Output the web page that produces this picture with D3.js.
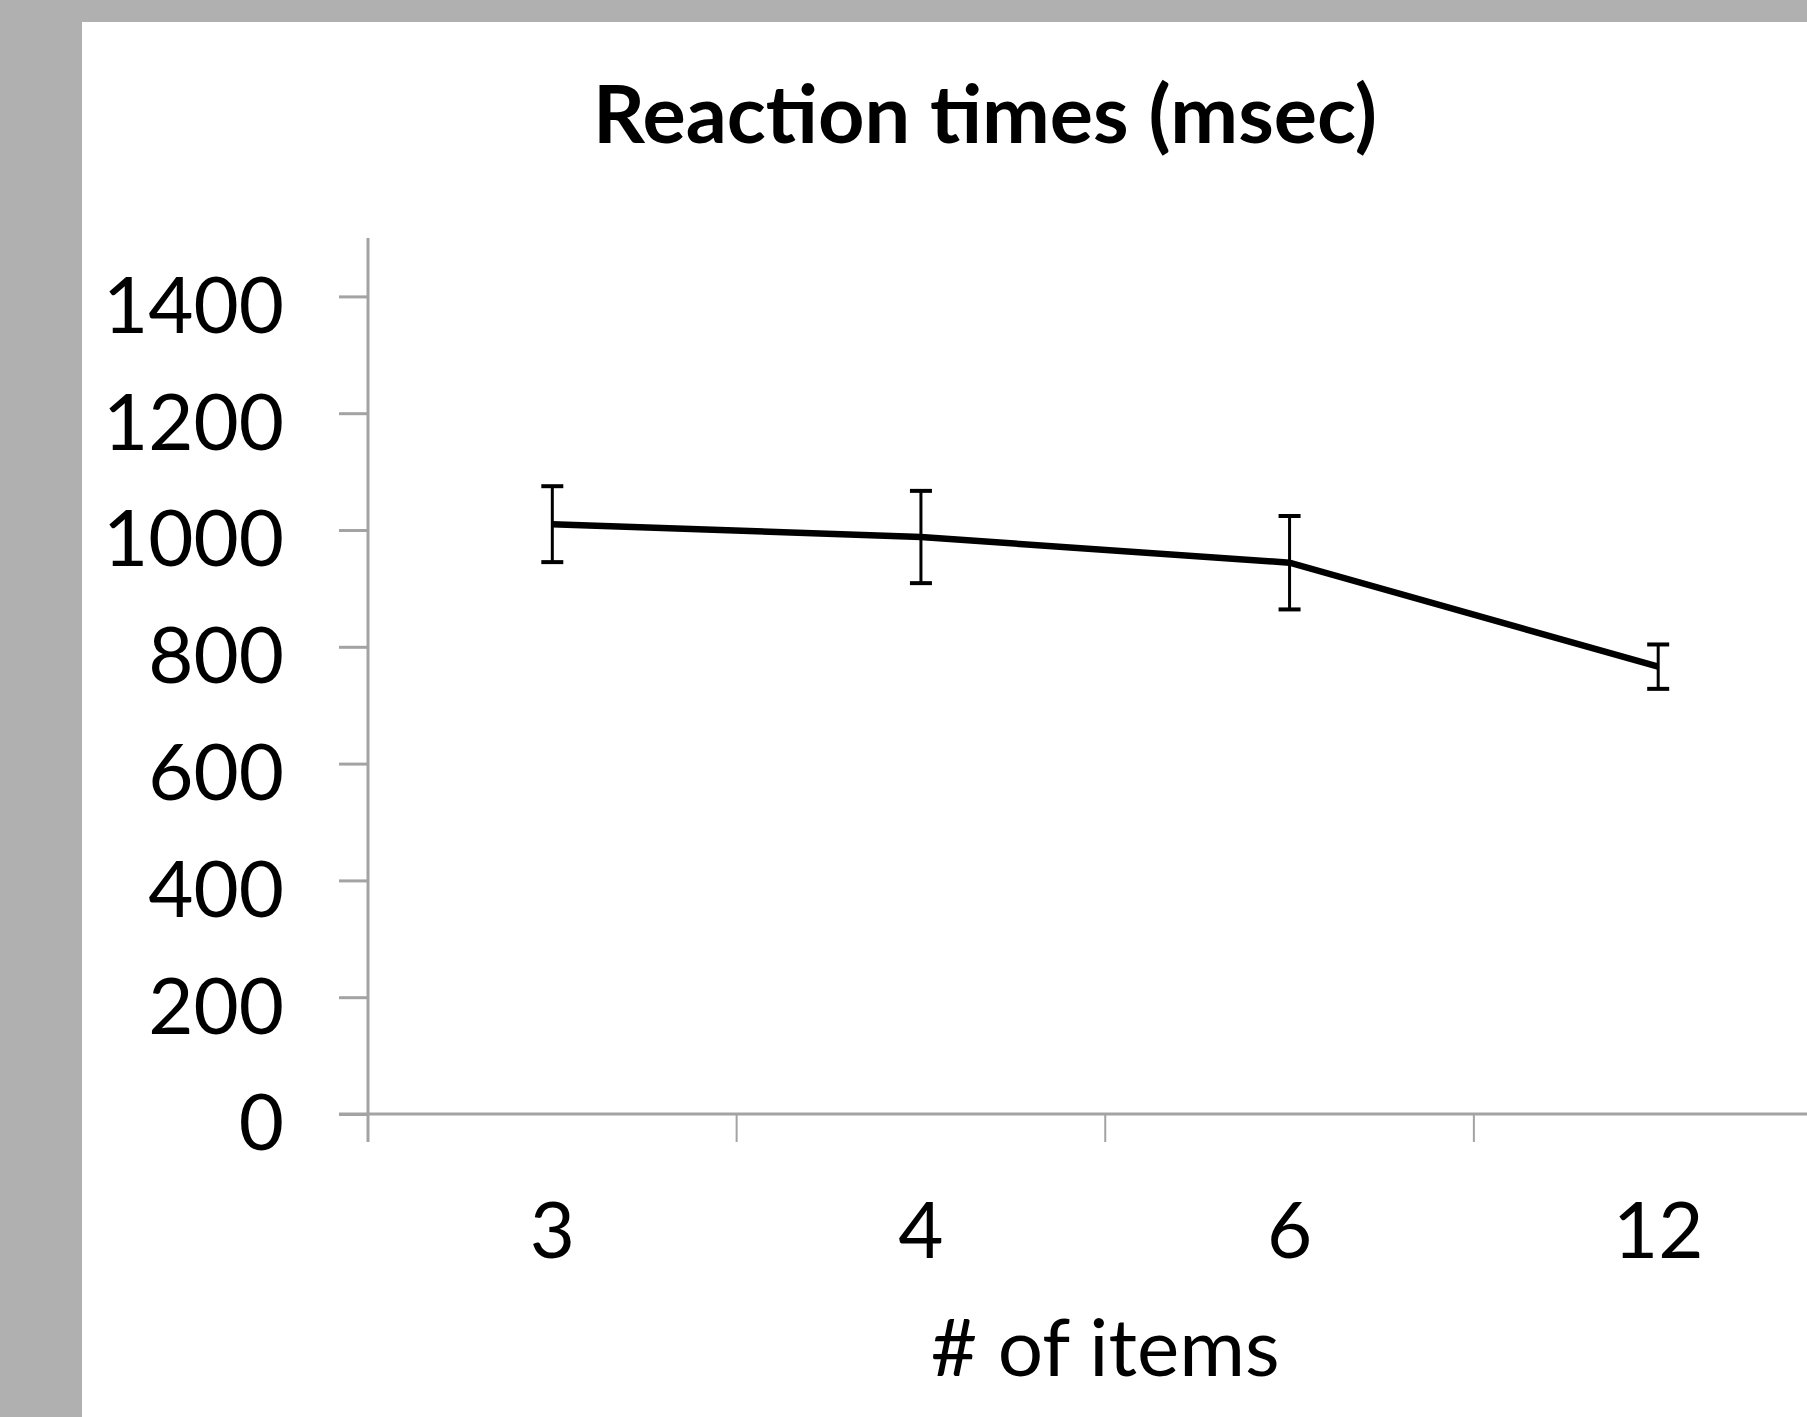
<!DOCTYPE html>
<html>
<head>
<meta charset="utf-8">
<script src="https://cdn.jsdelivr.net/npm/d3@7"></script>
<style>
  html, body { margin: 0; padding: 0; background: #b0b0b0; overflow: hidden; }
  svg { display: block; }
  text { font-family: Lato, "Open Sans", sans-serif; fill: #000; }
</style>
</head>
<body>
<script>
// values
const categories = ['3', '4', '6', '12'];
const meanRT = [1010, 988, 944, 766];
const errRT = [65, 79, 80, 38];
const yTicks = [0, 200, 400, 600, 800, 1000, 1200, 1400];

const W = 1807, H = 1417;
const axisGrey = '#a3a3a3';

const svg = d3.select('body').append('svg')
  .attr('width', W)
  .attr('height', H);

// white chart area inside the grey frame
svg.append('rect')
  .attr('x', 82).attr('y', 22)
  .attr('width', W - 82).attr('height', H - 22)
  .attr('fill', '#fff');

const x = d3.scaleBand().domain(categories).range([368, 1842.5]);
const y = d3.scaleLinear().domain([0, 1500]).range([1114, 238]);

const data = categories.map((c, i) => ({cat: c, mean: meanRT[i], err: errRT[i]}));

// title
svg.append('text')
  .attr('x', 985).attr('y', 143)
  .attr('text-anchor', 'middle')
  .style('font-size', '81px')
  .style('font-weight', 'bold')
  .text('Reaction times (msec)');

// y axis
const yAxis = svg.append('g')
  .attr('transform', `translate(${x.range()[0]},0)`)
  .call(d3.axisLeft(y).tickValues(yTicks).tickFormat(d3.format('d'))
    .tickSize(29).tickPadding(55).tickSizeOuter(0));

yAxis.select('.domain').remove();
yAxis.selectAll('.tick line').attr('stroke', axisGrey).attr('stroke-width', 3);
yAxis.selectAll('.tick text')
  .attr('dy', '0.46em')
  .style('font-size', '78px')
  .style('font-family', 'Lato, "Open Sans", sans-serif');

// y axis line (runs down past the x axis like the tick marks)
svg.append('line')
  .attr('x1', x.range()[0]).attr('x2', x.range()[0])
  .attr('y1', y(1500)).attr('y2', y(0) + 28)
  .attr('stroke', axisGrey).attr('stroke-width', 3);

// x axis line
svg.append('line')
  .attr('x1', x.range()[0] - 29).attr('x2', W)
  .attr('y1', y(0)).attr('y2', y(0))
  .attr('stroke', axisGrey).attr('stroke-width', 3);

// x tick marks between categories
svg.selectAll('.xtick')
  .data(categories.slice(1))
  .join('line')
  .attr('class', 'xtick')
  .attr('x1', (d) => x(d)).attr('x2', (d) => x(d))
  .attr('y1', y(0)).attr('y2', y(0) + 28)
  .attr('stroke', axisGrey).attr('stroke-width', 2);

// x labels
const xAxis = svg.append('g')
  .attr('transform', `translate(0,${y(0)})`)
  .call(d3.axisBottom(x).tickSize(0).tickPadding(0));
xAxis.select('.domain').remove();
xAxis.selectAll('.tick text')
  .attr('y', 144).attr('dy', 0)
  .style('font-size', '78px')
  .style('font-family', 'Lato, "Open Sans", sans-serif');

// x axis title
svg.append('text')
  .attr('x', (x.range()[0] + x.range()[1]) / 2).attr('y', 1376)
  .attr('text-anchor', 'middle')
  .style('font-size', '80px')
  .text('# of items');

const cx = (d) => x(d.cat) + x.bandwidth() / 2;

// main line
const line = d3.line().x(cx).y((d) => y(d.mean));
svg.append('path')
  .datum(data)
  .attr('d', line)
  .attr('fill', 'none')
  .attr('stroke', '#000')
  .attr('stroke-width', 6.5)
  .attr('stroke-linejoin', 'miter');

// error bars
const bars = svg.selectAll('.err')
  .data(data)
  .join('g')
  .attr('class', 'err');

bars.append('line')
  .attr('x1', cx).attr('x2', cx)
  .attr('y1', (d) => y(d.mean + d.err))
  .attr('y2', (d) => y(d.mean - d.err))
  .attr('stroke', '#000').attr('stroke-width', 3);

bars.selectAll('.cap')
  .data((d) => [d.mean + d.err, d.mean - d.err].map((v) => ({cat: d.cat, v: v})))
  .join('line')
  .attr('class', 'cap')
  .attr('x1', (d) => cx(d) - 11).attr('x2', (d) => cx(d) + 11)
  .attr('y1', (d) => y(d.v)).attr('y2', (d) => y(d.v))
  .attr('stroke', '#000').attr('stroke-width', 4);
</script>
</body>
</html>
